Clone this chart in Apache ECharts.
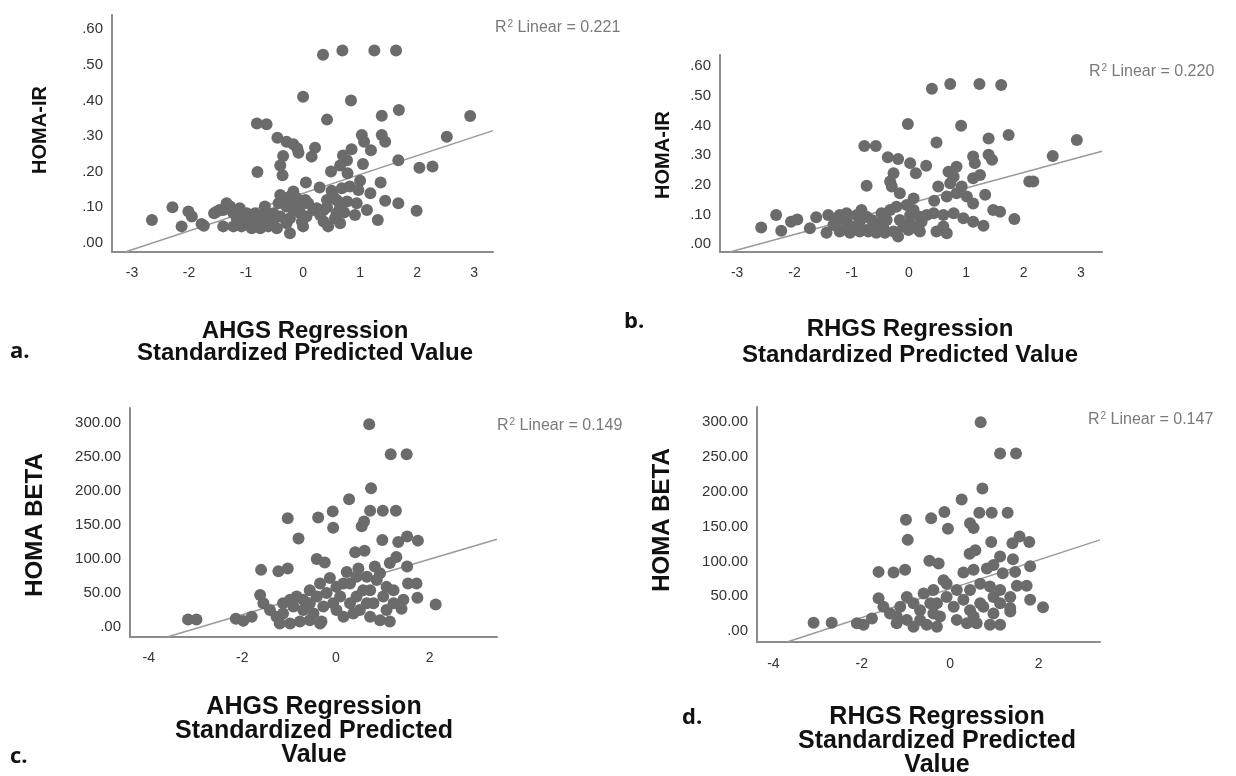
<!DOCTYPE html>
<html>
<head>
<meta charset="utf-8">
<script src="https://cdn.jsdelivr.net/npm/echarts@6/dist/echarts.min.js"></script>
<style>
html,body{margin:0;padding:0;background:#fff;}
#chart{width:1236px;height:776px;}
</style>
</head>
<body>
<div id="chart"></div>
<script>
// ---------- DATA ----------
// Panel a: AHGS predicted value vs HOMA-IR
const pointsA = [
[0.35,0.528],[0.69,0.54],[1.25,0.54],[1.63,0.54],[0.0,0.41],[0.84,0.40],[0.42,0.346],[1.38,0.357],[1.68,0.373],[2.93,0.356],
[-0.81,0.335],[-0.64,0.333],[2.52,0.298],[-0.45,0.295],[-0.29,0.284],[-0.17,0.277],[-0.10,0.265],[-0.08,0.253],[0.21,0.267],[0.15,0.242],
[-0.35,0.244],[-0.40,0.217],[-0.36,0.19],[-0.8,0.199],[1.03,0.303],[1.07,0.284],[1.19,0.26],[1.38,0.303],[1.44,0.284],[0.85,0.263],
[0.70,0.245],[0.77,0.232],[0.65,0.217],[0.49,0.2],[0.78,0.195],[1.05,0.221],[1.67,0.232],[2.04,0.211],[2.27,0.214],[0.05,0.169],
[0.29,0.155],[0.5,0.146],[0.68,0.153],[0.82,0.158],[1.0,0.174],[0.97,0.148],[1.18,0.139],[1.36,0.169],[1.44,0.118],[1.67,0.111],
[1.99,0.09],[1.31,0.064],[0.42,0.12],[0.59,0.12],[0.77,0.116],[0.94,0.111],[1.12,0.092],[0.91,0.078],[0.59,0.083],[0.44,0.046],
[0.65,0.055],[0.56,0.069],[0.42,0.10],[0.65,0.10],[0.53,0.13],[0.36,0.06],[0.72,0.085],
[-0.40,0.134],[-0.23,0.13],[-0.11,0.125],[0.04,0.12],[0.18,0.092],[0.24,0.097],[-0.43,0.111],[-0.29,0.102],[-0.17,0.092],[-0.05,0.083],
[0.06,0.074],[-0.23,0.069],[-0.40,0.074],[-0.52,0.064],[-0.64,0.06],[-0.75,0.055],[-0.87,0.064],[-0.99,0.06],[-1.11,0.074],[-1.22,0.083],
[-1.28,0.102],[-1.40,0.092],[-1.51,0.088],[-1.40,0.046],[-1.22,0.046],[-1.08,0.046],[-0.9,0.041],[-0.75,0.041],[-0.61,0.046],[-0.46,0.041],
[-0.29,0.055],[-0.23,0.027],[-0.02,0.06],[0.0,0.046],[-0.14,0.111],[-0.52,0.083],[-0.70,0.078],[-0.84,0.083],[-0.99,0.083],[-1.11,0.097],
[-1.34,0.111],[-1.16,0.064],[-1.02,0.074],[-0.67,0.102],[-0.37,0.12],[-0.17,0.144],[-0.05,0.102],[0.09,0.111],[0.36,0.092],[0.30,0.078],
[-2.65,0.064],[-2.29,0.1],[-2.13,0.046],[-2.01,0.088],[-1.95,0.074],[-1.78,0.053],[-1.74,0.048],[-1.56,0.083],[-1.46,0.092]
];
// Panel b: RHGS predicted value vs HOMA-IR
const pointsB = [
[0.40,0.524],[0.72,0.54],[1.23,0.54],[1.61,0.537],[-0.02,0.405],[0.91,0.399],[0.48,0.343],[1.39,0.356],[1.74,0.368],[2.93,0.351],
[-0.78,0.331],[-0.58,0.331],[2.51,0.297],[-0.37,0.293],[-0.19,0.287],[0.02,0.273],[0.12,0.239],[0.30,0.264],[-0.27,0.239],[-0.33,0.211],
[-0.30,0.194],[-0.74,0.197],[-0.16,0.171],[1.12,0.295],[1.15,0.273],[1.24,0.233],[1.39,0.301],[1.45,0.284],[0.83,0.261],[0.69,0.244],
[0.78,0.227],[0.72,0.205],[0.51,0.194],[0.92,0.194],[1.12,0.222],[2.10,0.211],[2.17,0.211],[0.08,0.154],[0.44,0.146],[0.66,0.16],
[0.83,0.171],[1.01,0.16],[1.12,0.137],[1.33,0.166],[1.47,0.115],[1.59,0.109],[1.84,0.084],[1.30,0.062],[0.43,0.104],[0.60,0.098],
[0.78,0.104],[0.95,0.087],[1.12,0.075],[0.48,0.042],[0.66,0.036],[0.60,0.059],
[-2.58,0.056],[-2.32,0.098],[-2.23,0.045],[-2.06,0.075],[-1.95,0.083],[-1.73,0.053],[-1.62,0.09],[-1.44,0.038],[-1.41,0.098],[-1.21,0.098],
[-1.26,0.075],[-1.09,0.081],[-0.97,0.059],[-0.86,0.075],[-0.74,0.047],[-0.62,0.059],[-0.51,0.07],[-0.39,0.081],[-0.33,0.115],[-0.48,0.104],
[-0.22,0.126],[-0.04,0.132],[0.08,0.115],[0.19,0.092],[0.31,0.098],[-0.16,0.081],[0.02,0.07],[0.13,0.053],[-0.19,0.025],[-0.27,0.042],
[-0.42,0.038],[-0.57,0.038],[-0.71,0.042],[-0.86,0.042],[-1.03,0.038],[-1.21,0.042],[-1.32,0.064],[-1.09,0.053],[-0.91,0.098],[-0.74,0.092],
[-1.09,0.104],[0.02,0.098],[0.22,0.075],[-0.10,0.059],[-0.01,0.047],[0.19,0.042],[-0.45,0.059],[-0.65,0.081],[-0.83,0.115]
];
// Panel c: AHGS predicted value vs HOMA BETA
const pointsC = [
[0.71,298],[1.17,254],[1.51,254],[0.75,204],[0.28,188],[-0.07,170],[0.73,171],[1.0,171],[1.28,171],[-1.03,160],
[-0.38,161],[-0.06,146],[0.55,148],[0.60,155],[-0.80,130],[0.99,128],[1.52,133],[1.75,127],[1.33,125],[0.41,110],
[0.61,112],[-0.41,100],[-0.24,95],[-1.60,84],[-1.23,82],[-1.03,86],[1.52,89],[1.29,103],[1.15,94],[0.23,81],
[0.48,86],[0.83,89],[1.72,64],[1.54,64],[1.74,43],[2.13,33],[1.44,40],[1.40,27],[-3.16,11],[-2.98,11],
[-2.14,12],[-1.98,9],[-1.80,15],[-1.62,47],[-1.55,35],
[-1.41,25],[-1.27,15],[-1.13,20],[-1.2,5],[-0.98,5],[-0.77,8],[-0.56,10],[-0.34,5],[-0.91,30],[-0.70,40],
[-0.56,54],[-0.34,64],[-0.13,72],[-0.20,50],[-0.06,35],[0.09,45],[0.16,15],[0.01,25],[0.30,35],[0.44,45],
[0.58,54],[0.51,25],[0.73,15],[0.94,10],[1.15,8],[0.80,35],[1.01,45],[1.08,59],[0.87,69],[0.66,74],
[0.73,54],[1.23,35],[1.23,54],[-0.84,45],[-0.70,25],[-0.48,20],[-0.27,30],[-0.41,45],[-0.98,40],[-1.13,35],
[0.16,64],[0.01,59],[0.30,64],[0.44,74],[0.94,79],[1.08,25],[0.66,35],[0.37,20],[-0.56,35],[-0.31,8]
];
// Panel d: RHGS predicted value vs HOMA BETA
const pointsD = [
[0.69,300],[1.13,255],[1.49,255],[0.73,205],[0.26,189],[-0.13,171],[0.66,170],[0.94,170],[1.30,170],[-1.0,160],
[-0.43,162],[-0.05,147],[0.45,155],[0.53,148],[-0.96,131],[0.93,128],[1.57,136],[1.79,128],[1.41,126],[0.44,111],
[0.57,116],[-0.47,101],[-0.26,97],[-1.62,85],[-1.28,84],[-1.02,88],[1.81,93],[1.42,103],[1.13,107],[0.98,95],
[1.19,83],[1.47,85],[0.30,84],[0.53,88],[0.83,90],[1.51,65],[1.73,65],[1.81,45],[2.10,34],[1.36,33],
[-3.09,12],[-2.68,12],[-2.11,11],[-1.96,9],[-1.77,18],[-1.62,47],[-1.51,35],
[-1.36,25],[-1.21,11],[-0.98,16],[-0.83,6],[-0.53,9],[-0.30,6],[-0.68,30],[-0.60,54],[-0.38,59],
[-0.15,73],[-0.08,49],[0.08,35],[0.15,16],[0.30,45],[0.45,30],[0.60,11],[0.90,9],[1.13,9],[0.75,35],
[0.98,49],[1.13,59],[0.90,64],[0.68,68],[1.13,40],[1.36,49],[1.36,28],[-0.83,40],[-0.98,49],[-1.13,35],
[-1.21,21],[-0.45,40],[-0.23,21],[-0.38,25],[-0.68,16],[0.15,59],[0.45,59],[0.68,40],[0.53,21],[0.98,25],
[-0.08,68],[-0.30,40],[0.38,11]
];
// Linear fit lines (end points)
const fitA = [[-3.12,-0.026],[3.33,0.315]];
const fitB = [[-3.13,-0.027],[3.37,0.313]];
const fitC = [[-3.61,-14.7],[3.44,129]];
const fitD = [[-3.69,-15.8],[3.39,131]];
// Tick labels
const xTicksAB = [-3,-2,-1,0,1,2,3];
const xTicksCD = [-4,-2,0,2];
const yTicksIR = [0,0.1,0.2,0.3,0.4,0.5,0.6];
const yTicksBeta = [0,50,100,150,200,250,300];
const r2Labels = ['0.221','0.220','0.149','0.147'];

// ---------- CHART ----------
const FONT = '"Liberation Sans", Arial, sans-serif';
const dotColor = '#6b6b6b';
const fmt = v => v.toFixed(2).replace(/^0\./, '.');

const panels = [
  {grid:{left:112, top:15, width:381, height:237}, x:[-3.35,3.33], y:[-0.026,0.64], xt:xTicksAB, yt:yTicksIR, pts:pointsA, fit:fitA, xm:14},
  {grid:{left:720, top:55, width:382, height:197}, x:[-3.3,3.37], y:[-0.027,0.638], xt:xTicksAB, yt:yTicksIR, pts:pointsB, fit:fitB, xm:14},
  {grid:{left:130, top:408, width:367, height:229}, x:[-4.4,3.44], y:[-14.7,322], xt:xTicksCD, yt:yTicksBeta, pts:pointsC, fit:fitC, xm:14},
  {grid:{left:757, top:407, width:343, height:235}, x:[-4.37,3.39], y:[-15.8,322], xt:xTicksCD, yt:yTicksBeta, pts:pointsD, fit:fitD, xm:15}
];

const axisLineStyle = {color:'#8c8c8c', width:2};
const option = {
  animation:false,
  backgroundColor:'#ffffff',
  grid: panels.map(p => Object.assign({containLabel:false}, p.grid)),
  xAxis: panels.map((p,i) => ({
    type:'value', gridIndex:i, min:p.x[0], max:p.x[1],
    axisLine:{show:true, onZero:false, lineStyle:axisLineStyle},
    axisTick:{show:false},
    splitLine:{show:false},
    axisLabel:{customValues:p.xt, margin:p.xm, color:'#333', fontSize:14, fontFamily:FONT,
      formatter: v => String(v)}
  })),
  yAxis: panels.map((p,i) => ({
    type:'value', gridIndex:i, min:p.y[0], max:p.y[1],
    axisLine:{show:true, onZero:false, lineStyle:axisLineStyle},
    axisTick:{show:false},
    splitLine:{show:false},
    axisLabel:{customValues:p.yt, margin:9, color:'#333', fontSize:15, fontFamily:FONT, formatter: fmt}
  })),
  series: [].concat(
    panels.map((p,i) => ({
      type:'line', xAxisIndex:i, yAxisIndex:i, data:p.fit, symbol:'none', z:1,
      lineStyle:{color:'#9a9a9a', width:1.5}, silent:true
    })),
    panels.map((p,i) => ({
      type:'scatter', xAxisIndex:i, yAxisIndex:i, data:p.pts, symbolSize:12, z:2,
      itemStyle:{color:dotColor, opacity:1}
    }))
  ),
  graphic: [
    // y-axis titles
    {type:'text', x:40, y:130, rotation:Math.PI/2, style:{text:'HOMA-IR', font:'bold 20px '+FONT, fill:'#111', align:'center', verticalAlign:'middle'}},
    {type:'text', x:663, y:155, rotation:Math.PI/2, style:{text:'HOMA-IR', font:'bold 20px '+FONT, fill:'#111', align:'center', verticalAlign:'middle'}},
    {type:'text', x:35, y:525, rotation:Math.PI/2, style:{text:'HOMA BETA', font:'bold 24px '+FONT, fill:'#111', align:'center', verticalAlign:'middle'}},
    {type:'text', x:662, y:520, rotation:Math.PI/2, style:{text:'HOMA BETA', font:'bold 24px '+FONT, fill:'#111', align:'center', verticalAlign:'middle'}},
    // x-axis titles
    {type:'text', x:305, y:342, style:{text:'AHGS Regression\nStandardized Predicted Value', font:'bold 24px '+FONT, fill:'#111', align:'center', verticalAlign:'middle', lineHeight:22}},
    {type:'text', x:910, y:342, style:{text:'RHGS Regression\nStandardized Predicted Value', font:'bold 24px '+FONT, fill:'#111', align:'center', verticalAlign:'middle', lineHeight:26}},
    {type:'text', x:314, y:731, style:{text:'AHGS Regression\nStandardized Predicted\nValue', font:'bold 25px '+FONT, fill:'#111', align:'center', verticalAlign:'middle', lineHeight:24}},
    {type:'text', x:937, y:741, style:{text:'RHGS Regression\nStandardized Predicted\nValue', font:'bold 25px '+FONT, fill:'#111', align:'center', verticalAlign:'middle', lineHeight:24}},
    // panel letters
    {type:'text', x:10, y:352, style:{text:'a.', font:'bold 22px "Open Sans", sans-serif', fill:'#111', verticalAlign:'middle'}},
    {type:'text', x:624, y:322, style:{text:'b.', font:'bold 22px "Open Sans", sans-serif', fill:'#111', verticalAlign:'middle'}},
    {type:'text', x:10, y:757, style:{text:'c.', font:'bold 22px "Open Sans", sans-serif', fill:'#111', verticalAlign:'middle'}},
    {type:'text', x:682, y:718, style:{text:'d.', font:'bold 22px "Open Sans", sans-serif', fill:'#111', verticalAlign:'middle'}},
    // R2 labels
    ...[[495,28],[1089,72],[497,426],[1088,420]].map((pos,i) => ({
      type:'text', x:pos[0], y:pos[1],
      style:{text:'{r|R}{s|2}{r| Linear = '+r2Labels[i]+'}', verticalAlign:'middle',
        rich:{r:{font:'16px '+FONT, fill:'#7a7a7a'}, s:{font:'10px '+FONT, fill:'#7a7a7a', verticalAlign:'top', padding:[0,0,8,1]}}}
    }))
  ]
};
const chart = echarts.init(document.getElementById('chart'), null, {renderer:'canvas'});
chart.setOption(option);
</script>
</body>
</html>
